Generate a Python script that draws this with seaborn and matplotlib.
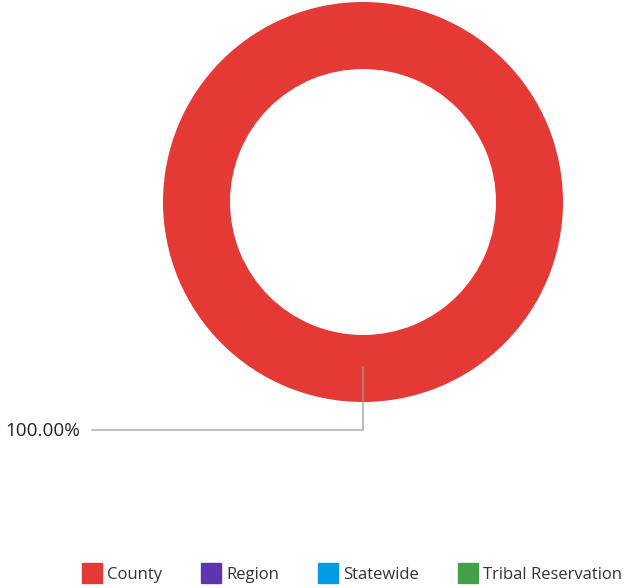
import numpy as np
import matplotlib
matplotlib.use("Agg")
import matplotlib.pyplot as plt
from matplotlib.lines import Line2D
import seaborn as sns

# data
categories = ["County", "Region", "Statewide", "Tribal Reservation"]
values = [100.0, 0.0, 0.0, 0.0]
colors = ["#E53935", "#5E35B1", "#039BE5", "#43A047"]

sns.set_theme(style="white")
plt.rcParams['font.family'] = ['Open Sans', 'DejaVu Sans']

W, H = 626, 588
fig = plt.figure(figsize=(W / 100, H / 100), dpi=100)
ax = fig.add_axes([0, 0, 1, 1])

cx, cy, r_out, ring = 363, 202, 200, 67

shown = [(c, v, col) for c, v, col in zip(categories, values, colors) if v > 0]
vals = [v for _, v, _ in shown]
wedges, _ = ax.pie(vals, colors=[col for _, _, col in shown], center=(cx, cy),
                   radius=r_out, startangle=90, counterclock=True,
                   wedgeprops=dict(width=ring, linewidth=0))
ax.set_xlim(0, W)
ax.set_ylim(H, 0)
ax.set_aspect('equal')
ax.axis('off')

# leader lines and labels (y axis is flipped, so screen y = cy - r*sin)
total = sum(vals)
for w, v in zip(wedges, vals):
    ang = np.deg2rad((w.theta1 + w.theta2) / 2)
    r_mid = r_out - ring / 2 - 2
    x0 = cx + r_mid * np.cos(ang)
    y0 = cy + abs(r_mid * np.sin(ang))
    ax.plot([x0, x0, 92], [y0, 430, 430], color="#9e9e9e", lw=1.2, alpha=0.8,
            solid_joinstyle='miter')
    ax.text(5, 431, f"{v / total * 100:.2f}%", fontsize=13.6, color="#222222",
            ha='left', va='center')

handles = [Line2D([0], [0], marker='s', linestyle='none', markersize=15,
                  markerfacecolor=c, markeredgecolor=c) for c in colors]
ax.legend(handles, categories, loc='center', bbox_to_anchor=(0.564, 1 - 575 / H),
          bbox_transform=ax.transAxes, ncol=4, frameon=False, fontsize=12,
          handlelength=1.0, handletextpad=0.4, columnspacing=2.45,
          labelcolor="#333333")

fig.savefig("out.png", dpi=100)
